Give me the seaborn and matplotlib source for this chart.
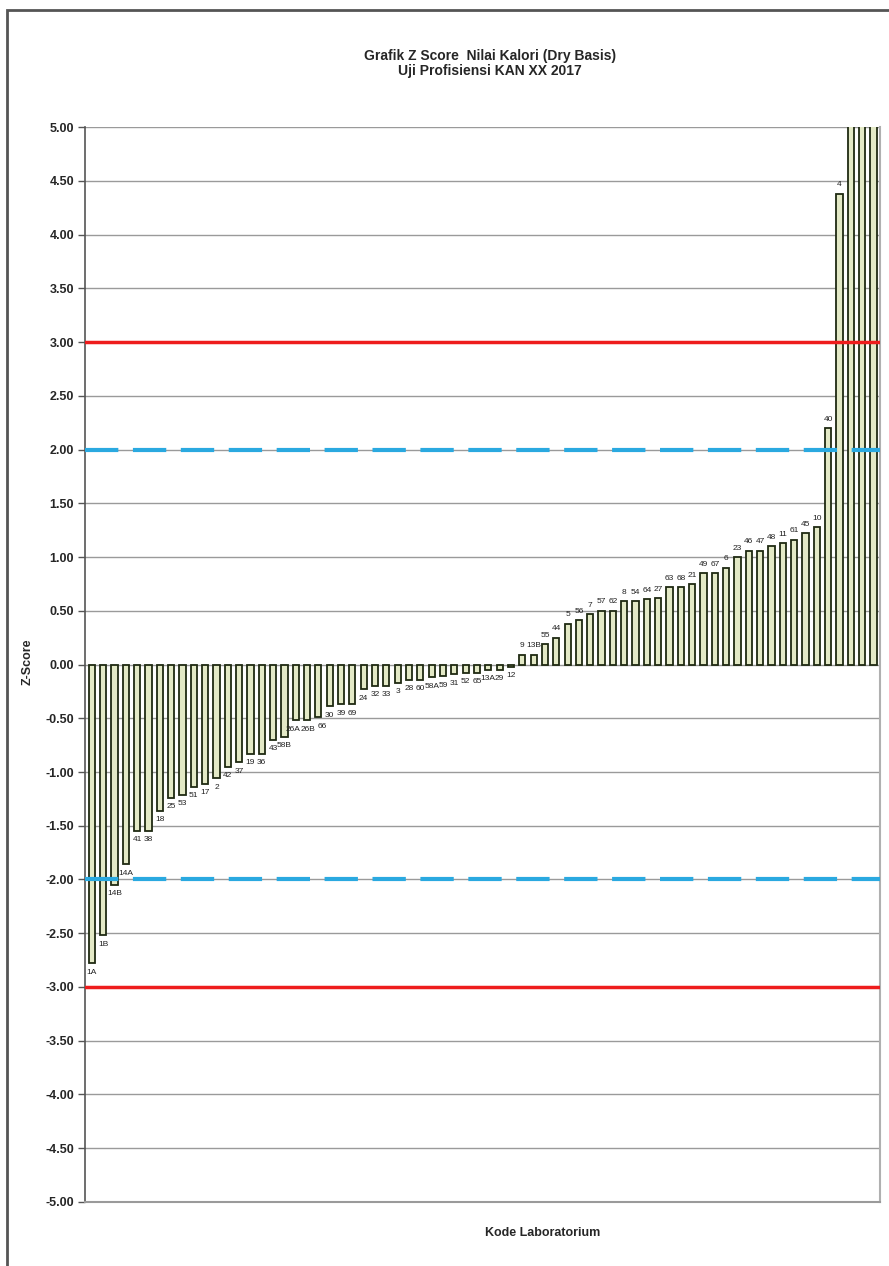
import pandas as pd
import matplotlib
matplotlib.use("Agg")
import matplotlib.pyplot as plt
import matplotlib.patches as mpatches
import seaborn as sns

kode = ['1A', '1B', '14B', '14A', '41', '38', '18', '25', '53', '51', '17', '2',
        '42', '37', '19', '36', '43', '58B', '26A', '26B', '66', '30', '39', '69',
        '24', '32', '33', '3', '28', '60', '58A', '59', '31', '52', '65', '13A',
        '29', '12',
        '9', '13B', '55', '44', '5', '56', '7', '57', '62', '8', '54', '64', '27',
        '63', '68', '21', '49', '67', '6', '23', '46', '47', '48', '11', '61', '45',
        '10', '40', '4', '15', '16', '20']
zscore = [-2.78, -2.52, -2.05, -1.86, -1.55, -1.55, -1.36, -1.24, -1.21, -1.14,
          -1.11, -1.06, -0.95, -0.91, -0.83, -0.83, -0.70, -0.67, -0.52, -0.52,
          -0.49, -0.39, -0.37, -0.37, -0.23, -0.20, -0.20, -0.17, -0.14, -0.14,
          -0.12, -0.11, -0.09, -0.08, -0.08, -0.05, -0.05, -0.02,
          0.09, 0.09, 0.19, 0.25, 0.38, 0.41, 0.47, 0.50, 0.50, 0.59, 0.59, 0.61,
          0.62, 0.72, 0.72, 0.75, 0.85, 0.85, 0.90, 1.00, 1.06, 1.06, 1.10, 1.13,
          1.16, 1.22, 1.28, 2.20, 4.38, 6.5, 8.0, 10.0]
yticks = [5.0, 4.5, 4.0, 3.5, 3.0, 2.5, 2.0, 1.5, 1.0, 0.5, 0.0,
          -0.5, -1.0, -1.5, -2.0, -2.5, -3.0, -3.5, -4.0, -4.5, -5.0]

df = pd.DataFrame({'kode': kode, 'z': zscore})

sns.set_style("white")
plt.rcParams['font.family'] = ['Liberation Sans', 'DejaVu Sans']

fig = plt.figure(figsize=(8.89, 12.66), dpi=100)
ax = fig.add_axes([0.0956, 0.0506, 0.894, 0.849])

# garis grid
for t in yticks:
    ax.axhline(t, color='#9a9a9a', lw=1.0, zorder=0)

sns.barplot(data=df, x='kode', y='z', order=kode, color='#e3e9c6',
            edgecolor='#1f2a12', linewidth=1.3, width=0.55, saturation=1,
            ax=ax, zorder=2)

# batas z-score
ax.axhline(3, color='#ee1c1c', lw=2.5, zorder=3)
ax.axhline(-3, color='#ee1c1c', lw=2.5, zorder=3)
ax.axhline(2, color='#2aa9e0', lw=3, ls=(0, (8, 3.5)), zorder=3)
ax.axhline(-2, color='#2aa9e0', lw=3, ls=(0, (8, 3.5)), zorder=3)

# label kode di ujung batang (beberapa sedikit digeser supaya tidak bertumpuk)
geser = {'26A': -0.2, '26B': 0.1, '66': 0.3}
for i, (k, v) in enumerate(zip(kode, zscore)):
    if v > 5:
        continue
    dx = geser.get(k, 0)
    if v >= 0:
        ax.text(i + dx, v + 0.05, k, ha='center', va='bottom', fontsize=6,
                color='#222222')
    else:
        ax.text(i + dx, v - 0.05, k, ha='center', va='top', fontsize=6,
                color='#222222')

ax.set_ylim(-5, 5)
ax.set_xlim(-0.6, len(kode) - 0.45)
ax.set_yticks(yticks)
ax.set_yticklabels([f'{t:.2f}' for t in yticks], fontsize=9, fontweight='bold')
ax.tick_params(axis='y', length=5, width=1, color='#555555', pad=3, left=True)
ax.set_xticks([])
ax.set_xlabel('')
ax.set_ylabel('')
ax.spines['top'].set_visible(False)
ax.spines['right'].set_color('#b0b0b0')
ax.spines['right'].set_linewidth(1.5)
ax.spines['left'].set_color('#555555')
ax.spines['left'].set_linewidth(1.2)
ax.spines['bottom'].set_color('#9a9a9a')
ax.spines['bottom'].set_linewidth(1.5)

fig.text(0.0315, 0.477, 'Z-Score', rotation=90, ha='center', va='center',
         fontsize=9, fontweight='bold')
fig.text(0.61, 0.026, 'Kode Laboratorium', ha='center', va='center',
         fontsize=9, fontweight='bold')
fig.text(0.551, 0.95, 'Grafik Z Score  Nilai Kalori (Dry Basis)\nUji Profisiensi KAN XX 2017',
         ha='center', va='center', fontsize=10, fontweight='bold', linespacing=1.1)

# bingkai luar
fig.patches.append(mpatches.Rectangle((0.008, -0.01), 1.2, 1.002,
                                      transform=fig.transFigure, fill=False,
                                      edgecolor='#555555', lw=2))

fig.savefig('out.png', dpi=100)
